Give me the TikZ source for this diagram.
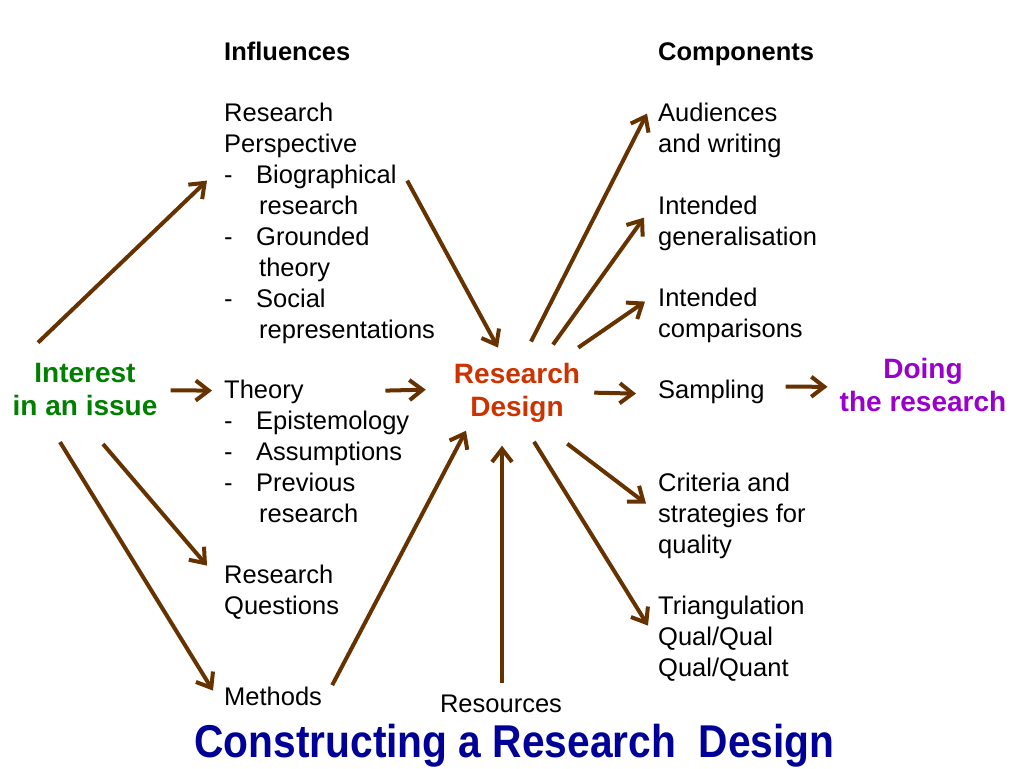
\documentclass[tikz,border=0pt]{standalone}
\usepackage{fontspec}
\setmainfont{Liberation Sans}
\newfontfamily\titlefont[FakeStretch=0.885]{Liberation Sans}
\usepackage{tikz}
\usetikzlibrary{calc, arrows.meta}
\definecolor{arrbrown}{RGB}{102,51,0}
\definecolor{igreen}{RGB}{0,128,0}
\definecolor{rdred}{RGB}{204,51,0}
\definecolor{dopurple}{RGB}{153,0,204}
\definecolor{tblue}{RGB}{0,0,153}
\newcommand*{\lidash}{-\hspace*{23.5pt}}
\newcommand*{\liind}{\hspace*{35pt}}

\begin{document}
\begin{tikzpicture}[x=1pt,y=-1pt,
 txt/.style={anchor=north west, inner sep=0pt, align=left, font=\fontsize{25.5}{31}\selectfont},
 head/.style={txt, font=\fontsize{25.5}{31}\selectfont\bfseries},
 hub/.style={anchor=north, inner sep=0pt, align=center, font=\fontsize{28}{33.5}\selectfont\bfseries},
 arr/.style={draw=arrbrown, line width=4pt, -{Straight Barb[length=13pt,width=20pt]}}]
 \useasboundingbox (0,0) rectangle (1024,768);

 \node[head] (infl) at (224,42) {Influences};
 \node[txt] (persp) at (224,102.6) {Research\\Perspective\\\lidash Biographical\\\liind research\\\lidash Grounded\\\liind theory\\\lidash Social\\\liind representations};
 \node[txt] (theory) at (224,379.6) {Theory\\\lidash Epistemology\\\lidash Assumptions\\\lidash Previous\\\liind research};
 \node[txt] (rq) at (224,564.6) {Research\\Questions};
 \node[txt] (meth) at (224,686.6) {Methods};

 \node[head] (comp) at (658,42) {Components};
 \node[txt] (aud) at (658,102.6) {Audiences\\and writing};
 \node[txt] (gen) at (658,195.6) {Intended\\generalisation};
 \node[txt] (cmp) at (658,287.6) {Intended\\comparisons};
 \node[txt] (samp) at (658,379.6) {Sampling};
 \node[txt] (crit) at (658,472.6) {Criteria and\\strategies for\\quality};
 \node[txt] (tri) at (658,595.6) {Triangulation\\Qual/Qual\\Qual/Quant};

 \node[hub, text=igreen] (interest) at (85,362.6) {Interest\\in an issue};
 \node[hub, text=rdred] (rd) at (517,362.6) {Research\\Design};
 \node[hub, text=dopurple] (doing) at (923,357.6) {Doing\\the research};
 \node[txt, anchor=base] (res) at (501,712) {Resources};
 \node[anchor=base, inner sep=0pt, text=tblue, font=\titlefont\fontsize{46}{50}\selectfont\bfseries] (title) at (514.5,757) {Constructing a Research~ Design};

 % into the influences
 \draw[arr] ($(interest.north)+(-47,-20)$) -- ($(persp.north west)+(-17,78)$);
 \draw[arr] ($(interest.east)+(13,1)$) -- ($(theory.north west)+(-12,11)$);
 \draw[arr] ($(interest.south)+(18,28)$) -- ($(rq.north west)+(-17,1)$);
 \draw[arr] ($(interest.south)+(-25,26)$) -- ($(meth.north west)+(-11,4)$);

 % into the design
 \draw[arr] ($(persp.north east)+(-28,78)$) -- ($(rd.north)+(-19,-15)$);
 \draw[arr] ($(theory.north east)+(-24,11)$) -- ($(rd.west)+(-28,-3)$);
 \draw[arr] ($(meth.east)+(10,-11)$) -- ($(rd.south)+(-51,8)$);
 \draw[arr] ($(res.north)+(1,-11)$) -- ($(rd.south)+(-15,23)$);

 % out to the components
 \draw[arr] ($(rd.north)+(14,-21)$) -- ($(aud.north west)+(-11,11)$);
 \draw[arr] ($(rd.north)+(36,-18)$) -- ($(gen.north west)+(-14,22)$);
 \draw[arr] ($(rd.north east)+(-2,-15)$) -- ($(cmp.north west)+(-13,14)$);
 \draw[arr] ($(rd.east)+(14,0)$) -- ($(samp.north west)+(-22,14)$);
 \draw[arr] ($(rd.south east)+(-13,21)$) -- ($(crit.north west)+(-12,31)$);
 \draw[arr] ($(rd.south)+(17,19)$) -- ($(tri.north west)+(-10,30)$);

 \draw[arr] ($(samp.north east)+(21,7)$) -- ($(doing.west)+(-12,2)$);
\end{tikzpicture}
\end{document}
